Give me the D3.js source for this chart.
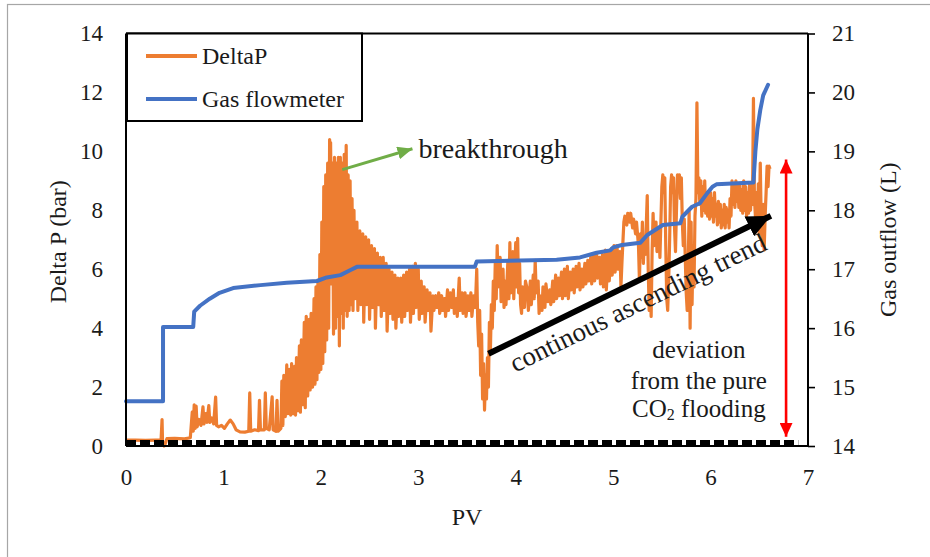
<!DOCTYPE html>
<html>
<head>
<meta charset="utf-8">
<script src="https://cdn.jsdelivr.net/npm/d3@7"></script>
<style>
  html, body { margin: 0; padding: 0; background: #fff; }
  svg { display: block; }
</style>
</head>
<body>
<svg id="chart" width="930" height="557"></svg>
<script>
// ---- data ----
const pvTicks = [0, 1, 2, 3, 4, 5, 6, 7];
const deltaPTicks = [0, 2, 4, 6, 8, 10, 12, 14];
const gasTicks = [14, 15, 16, 17, 18, 19, 20, 21];

const seriesNames = ["DeltaP", "Gas flowmeter"];

// Differential pressure (bar) vs injected pore volumes
const deltaP = [
  [0,0.2],[0.1,0.2],[0.2,0.19],[0.3,0.2],[0.36,0.2],[0.37,0.9],[0.375,0.15],[0.39,0.0],[0.4,0.05],[0.42,0.25],
  [0.5,0.26],[0.6,0.24],[0.66,0.28],
  [0.68,1.15],[0.69,0.5],[0.7,1.4],[0.71,0.6],[0.72,1.35],[0.73,0.65],[0.75,0.9],[0.77,0.7],[0.79,1.33],[0.8,0.75],
  [0.82,1.1],[0.83,0.8],[0.85,1.37],[0.86,0.8],[0.88,0.95],[0.9,0.75],[0.92,1.66],[0.93,0.7],[0.95,0.65],[0.98,0.7],
  [1.01,0.6],[1.04,0.75],[1.07,0.88],[1.1,0.75],[1.13,0.55],[1.17,0.48],[1.22,0.47],[1.26,0.5],[1.27,1.8],[1.28,0.5],
  [1.32,0.55],[1.36,0.52],[1.37,1.55],[1.38,0.55],[1.42,0.55],[1.43,1.8],[1.44,0.6],[1.47,0.55],[1.5,1.67],[1.51,0.55],
  [1.54,0.5],[1.55,1.55],[1.56,0.5],[1.59,0.6],
  [1.60,2.2],[1.61,0.7],[1.62,2.4],[1.635,1.0],[1.65,2.75],[1.66,1.1],[1.675,2.6],[1.69,1.05],[1.70,2.8],[1.715,1.1],
  [1.73,2.7],[1.74,1.05],[1.75,3.0],[1.765,1.2],[1.78,3.4],[1.79,1.15],[1.80,3.6],[1.815,1.4],[1.83,4.2],[1.84,1.3],
  [1.85,4.4],[1.865,1.7],[1.88,4.3],[1.89,1.9],[1.90,4.5],[1.915,2.0],[1.93,5.0],[1.94,2.1],[1.95,5.4],[1.96,2.25],
  [1.97,5.6],[1.98,2.5],[1.99,6.5],[2.0,2.6],
  [2.01,7.6],[2.02,2.8],[2.03,8.8],[2.04,3.2],[2.05,9.2],[2.06,3.6],[2.07,9.6],[2.08,4.0],[2.09,10.4],[2.095,9.9],
  [2.10,10.3],[2.11,5.5],[2.12,9.6],[2.13,3.8],[2.14,9.8],[2.15,4.0],[2.16,9.6],[2.17,4.4],[2.18,9.8],[2.19,3.4],
  [2.20,9.8],[2.21,4.5],[2.22,9.6],[2.23,4.0],[2.24,9.9],[2.25,4.6],[2.26,10.2],[2.27,4.4],[2.28,9.2],[2.29,4.6],
  [2.30,9.0],[2.31,4.8],[2.32,8.4],[2.33,4.6],[2.34,8.0],[2.35,5.0],[2.37,7.6],[2.38,4.6],[2.40,7.3],[2.41,4.8],
  [2.43,7.2],[2.44,4.2],[2.46,7.1],[2.47,4.8],[2.49,7.0],[2.50,4.3],[2.52,6.8],[2.53,4.7],[2.55,6.7],[2.56,4.0],
  [2.58,6.55],[2.59,4.8],[2.61,6.4],[2.62,4.4],[2.64,6.4],[2.65,4.6],[2.67,6.2],[2.68,3.9],[2.70,6.0],[2.71,4.5],
  [2.73,5.9],[2.74,4.3],[2.76,5.8],[2.77,4.0],[2.79,5.7],[2.80,4.4],[2.82,5.7],[2.83,4.2],[2.85,5.8],[2.86,4.4],
  [2.88,5.9],[2.89,4.6],[2.91,6.0],[2.92,4.2],[2.94,6.1],[2.95,4.5],[2.97,6.2],[2.98,4.7],[3.00,6.0],[3.01,4.3],
  [3.03,5.6],[3.04,4.5],[3.06,5.4],[3.07,4.2],[3.09,5.3],[3.10,4.6],[3.12,5.2],[3.13,3.9],[3.15,5.1],[3.16,4.6],
  [3.18,5.1],[3.19,4.7],[3.21,5.2],[3.22,4.5],[3.24,5.1],[3.25,4.6],[3.27,5.0],[3.28,4.4],[3.30,5.3],[3.31,4.6],
  [3.33,5.2],[3.34,4.7],[3.36,5.3],[3.37,4.5],[3.39,5.0],[3.40,4.4],[3.42,5.7],[3.43,4.6],[3.45,5.2],[3.46,4.5],
  [3.48,5.2],[3.49,4.4],[3.51,5.1],[3.52,4.6],[3.54,5.2],[3.55,4.4],[3.57,5.1],[3.58,4.7],
  [3.59,5.1],[3.60,6.0],[3.61,4.2],[3.62,3.4],[3.63,4.6],[3.64,2.4],[3.65,3.8],[3.66,1.6],[3.67,2.8],[3.68,1.22],
  [3.69,2.4],[3.70,1.6],[3.71,3.0],[3.72,2.0],[3.73,4.2],[3.74,3.2],[3.75,4.8],[3.76,4.0],[3.77,5.6],[3.78,4.6],
  [3.79,6.2],[3.80,5.0],[3.81,6.8],[3.82,5.4],[3.84,6.4],[3.85,4.9],[3.87,6.0],[3.88,4.7],[3.89,5.6],[3.90,4.8],
  [3.92,6.3],[3.93,5.0],[3.94,6.9],[3.95,5.2],[3.97,6.6],[3.98,5.0],[4.00,6.9],[4.01,5.4],[4.02,7.05],[4.03,5.2],
  [4.04,6.2],[4.05,4.8],[4.06,4.5],[4.07,5.4],[4.09,4.7],[4.10,5.6],[4.12,5.3],[4.13,4.6],[4.15,5.6],[4.16,4.8],
  [4.18,5.8],[4.19,5.0],[4.20,6.3],[4.21,5.2],[4.23,5.6],[4.24,4.5],[4.25,5.1],[4.27,4.6],[4.28,5.4],[4.30,4.7],
  [4.31,5.5],[4.33,4.9],[4.35,5.3],[4.36,4.8],[4.38,5.6],[4.39,4.9],[4.41,5.8],[4.42,5.0],[4.44,5.7],[4.45,5.1],
  [4.47,5.9],[4.48,5.0],[4.50,6.0],[4.51,5.1],[4.53,6.1],[4.54,5.0],[4.56,5.9],[4.57,5.3],[4.59,6.0],[4.60,5.2],
  [4.62,6.1],[4.63,5.4],[4.65,6.2],[4.66,5.3],[4.68,6.0],[4.69,5.4],[4.71,6.2],[4.72,5.5],[4.74,6.3],[4.75,5.6],
  [4.77,6.4],[4.78,5.5],[4.80,6.5],[4.81,5.6],[4.83,6.55],[4.84,5.7],[4.86,6.4],[4.87,5.5],[4.89,6.5],[4.90,5.4],
  [4.92,6.65],[4.93,5.3],[4.95,6.6],[4.96,5.6],[4.98,6.7],[4.99,5.8],[5.01,6.8],[5.02,5.9],[5.04,6.8],[5.05,6.0],
  [5.07,6.6],[5.08,5.4],[5.09,6.2],[5.10,6.9],[5.11,7.6],[5.12,7.8],[5.14,7.5],[5.15,7.9],[5.17,7.6],[5.18,7.9],
  [5.20,7.4],[5.21,7.7],[5.23,7.2],[5.24,7.6],[5.26,6.8],[5.27,5.6],
  [5.28,7.2],[5.29,6.4],[5.30,7.6],[5.31,6.2],[5.32,7.0],[5.33,6.5],[5.35,8.5],[5.36,6.0],[5.37,4.6],[5.38,5.8],
  [5.39,4.4],[5.40,6.6],[5.41,7.9],[5.42,6.8],[5.44,7.6],[5.45,6.6],[5.47,7.4],[5.48,6.4],[5.50,8.8],[5.51,9.2],
  [5.52,8.6],[5.53,9.1],[5.54,6.8],[5.55,5.0],[5.56,4.6],[5.57,5.6],[5.58,7.0],[5.59,8.8],[5.60,9.2],[5.61,8.6],
  [5.62,9.1],[5.63,7.4],[5.64,6.6],[5.65,8.0],[5.66,9.2],[5.67,8.8],[5.68,9.2],[5.69,8.4],[5.70,9.1],[5.71,7.6],
  [5.72,6.8],[5.73,7.7],[5.74,6.4],[5.75,5.2],[5.76,4.6],[5.77,6.0],[5.78,8.0],[5.79,4.0],[5.80,7.6],[5.81,4.8],
  [5.82,6.8],[5.83,5.4],[5.84,7.8],[5.85,8.4],[5.86,11.65],[5.87,8.6],[5.88,9.1],[5.89,8.2],[5.90,9.0],[5.91,7.8],
  [5.92,8.8],[5.93,8.0],[5.94,9.0],[5.95,7.9],[5.96,8.6],[5.97,7.8],[5.98,8.5],[5.99,7.7],[6.00,8.6],[6.01,7.8],
  [6.02,8.4],[6.03,7.6],[6.04,8.6],[6.05,7.8],[6.06,8.2],[6.07,7.5],[6.08,8.3],[6.09,7.6],[6.10,8.2],[6.11,7.4],
  [6.12,8.0],[6.13,7.5],[6.14,8.2],[6.15,7.4],[6.16,8.1],[6.17,7.6],[6.18,8.0],[6.19,7.4],[6.20,8.4],[6.21,7.8],
  [6.22,9.0],[6.23,8.2],[6.24,8.9],[6.25,8.1],[6.26,9.0],[6.27,8.3],[6.28,8.8],[6.29,8.1],[6.30,8.9],[6.31,8.0],
  [6.32,8.7],[6.33,7.9],[6.34,9.0],[6.35,8.0],[6.36,8.8],[6.37,7.8],[6.38,8.6],[6.39,7.9],[6.40,8.9],[6.41,8.0],
  [6.42,8.6],[6.43,8.2],[6.44,11.8],[6.45,8.4],[6.46,7.8],[6.47,8.6],[6.48,7.4],[6.49,8.9],[6.50,7.2],[6.51,9.6],
  [6.52,7.6],[6.53,6.8],[6.54,8.2],[6.55,6.65],[6.56,7.8],[6.57,8.6],[6.58,9.5],[6.59,8.8],[6.60,9.5],[6.61,9.4]
];

// Cumulative gas outflow (L) from the flowmeter
const gasOutflow = [
  [0,14.76],[0.38,14.76],[0.38,16.02],[0.69,16.02],[0.7,16.28],[0.76,16.38],[0.86,16.5],[0.96,16.6],[1.1,16.68],
  [1.38,16.73],[1.65,16.77],[1.96,16.8],[2.06,16.86],[2.2,16.9],[2.31,16.99],[2.37,17.04],[3.58,17.04],[3.6,17.13],
  [4.42,17.16],[4.66,17.2],[4.83,17.28],[4.97,17.32],[5.0,17.37],[5.09,17.41],[5.28,17.45],[5.35,17.58],[5.51,17.75],
  [5.69,17.78],[5.71,17.89],[5.81,18.06],[5.89,18.12],[5.97,18.3],[6.02,18.4],[6.06,18.44],[6.44,18.47],[6.46,19.0],
  [6.48,19.37],[6.51,19.7],[6.54,19.95],[6.59,20.13]
];

// Reference level of pure CO2 flooding (bar)
const pureCO2 = [[0,0.12],[6.9,0.12]];

// Annotation anchors in data units [PV, DeltaP]
const breakthroughArrow = [[2.22,9.38],[2.94,10.09]];
const trendArrow = [[3.72,3.13],[6.66,7.88]];
const deviationArrow = [[6.775,9.72],[6.775,0.31]];
const deviationLines = ["deviation", "from the pure"];

// ---- layout ----
const FONT = "Liberation Serif";
const INK = "#1a1a1a";
const svg = d3.select("#chart");
const plot = { left: 126, right: 808, top: 33.5, bottom: 446 };
const ORANGE = "#ED7D31", BLUE = "#4472C4", GREEN = "#70AD47";

const x = d3.scaleLinear().domain([0, 7]).range([plot.left, plot.right]);
const yL = d3.scaleLinear().domain([0, 14]).range([plot.bottom, plot.top]);
const yR = d3.scaleLinear().domain([14, 21]).range([plot.bottom, plot.top]);

// outer frame
svg.append("rect").attr("x", 7.5).attr("y", 4.5).attr("width", 1000).attr("height", 1000)
  .attr("fill", "none").attr("stroke", "#a6a6a6").attr("stroke-width", 1.2);

const defs = svg.append("defs");
function marker(id, color, w, h) {
  defs.append("marker").attr("id", id)
    .attr("viewBox", `0 0 ${w} ${h}`).attr("refX", w).attr("refY", h / 2)
    .attr("markerWidth", w).attr("markerHeight", h).attr("markerUnits", "userSpaceOnUse")
    .attr("orient", "auto-start-reverse")
    .append("path").attr("d", `M0,0L${w},${h / 2}L0,${h}Z`).attr("fill", color);
}
marker("headGreen", GREEN, 15, 13);
marker("headBlack", "#000", 24, 22);
marker("headRed", "#FF0000", 14, 13);

// series
const lineL = d3.line().x(d => x(d[0])).y(d => yL(d[1]));
const lineR = d3.line().x(d => x(d[0])).y(d => yR(d[1]));

svg.append("path").datum(deltaP).attr("d", lineL)
  .attr("fill", "none").attr("stroke", ORANGE).attr("stroke-width", 3.2).attr("stroke-linejoin", "round");

svg.append("path").datum(gasOutflow).attr("d", lineR)
  .attr("fill", "none").attr("stroke", BLUE).attr("stroke-width", 4).attr("stroke-linejoin", "round")
  .attr("stroke-linecap", "round");

// axes
const fmt = d3.format("d");
const gL = svg.append("g").attr("transform", `translate(${plot.left},0)`)
  .call(d3.axisLeft(yL).tickValues(deltaPTicks).tickFormat(fmt).tickSize(0).tickPadding(23));
const gB = svg.append("g").attr("transform", `translate(0,${plot.bottom})`)
  .call(d3.axisBottom(x).tickValues(pvTicks).tickFormat(fmt).tickSize(0).tickPadding(23));
const gR = svg.append("g").attr("transform", `translate(${plot.right},0)`)
  .call(d3.axisRight(yR).tickValues(gasTicks).tickFormat(fmt).tickSize(7).tickPadding(17));
[gL, gB, gR].forEach(g => {
  g.attr("font-family", FONT).attr("font-size", 23);
  g.selectAll("path.domain").attr("stroke", "#000").attr("stroke-width", 2);
  g.selectAll(".tick line").attr("stroke", "#000").attr("stroke-width", 1.6);
  g.selectAll(".tick text").attr("fill", INK).attr("font-family", FONT).attr("font-size", 23);
});
gL.select("path.domain").attr("d", `M0,${plot.bottom}V${plot.top}`);
gB.select("path.domain").attr("d", `M${plot.left},0H${plot.right}`);
gR.select("path.domain").attr("d", `M0,${plot.bottom}V${plot.top}`);

// top border of plot area
svg.append("line").attr("x1", plot.left).attr("x2", plot.right).attr("y1", plot.top).attr("y2", plot.top)
  .attr("stroke", "#000").attr("stroke-width", 2);

// pure CO2 reference (dashed)
svg.append("path").datum(pureCO2).attr("d", lineL)
  .attr("fill", "none").attr("stroke", "#000").attr("stroke-width", 5).attr("stroke-dasharray", "10,4");

function label(sel) { return sel.attr("font-family", FONT).attr("fill", INK); }

// axis titles
label(svg.append("text")).attr("transform", `translate(58,${(plot.top + plot.bottom) / 2 + 2}) rotate(-90)`)
  .attr("text-anchor", "middle").attr("dominant-baseline", "central").attr("font-size", 24).text("Delta P (bar)");
label(svg.append("text")).attr("transform", `translate(888,${(plot.top + plot.bottom) / 2}) rotate(-90)`)
  .attr("text-anchor", "middle").attr("dominant-baseline", "central").attr("font-size", 24).text("Gas outflow (L)");
label(svg.append("text")).attr("x", (plot.left + plot.right) / 2).attr("y", 525)
  .attr("text-anchor", "middle").attr("font-size", 24).text("PV");

// breakthrough annotation
svg.append("line")
  .attr("x1", x(breakthroughArrow[0][0])).attr("y1", yL(breakthroughArrow[0][1]))
  .attr("x2", x(breakthroughArrow[1][0])).attr("y2", yL(breakthroughArrow[1][1]))
  .attr("stroke", GREEN).attr("stroke-width", 3).attr("marker-end", "url(#headGreen)");
label(svg.append("text")).attr("x", x(breakthroughArrow[1][0]) + 6).attr("y", yL(breakthroughArrow[1][1]) + 9)
  .attr("font-size", 28).text("breakthrough");

// ascending trend annotation
const t0 = [x(trendArrow[0][0]), yL(trendArrow[0][1])];
const t1 = [x(trendArrow[1][0]), yL(trendArrow[1][1])];
svg.append("line").attr("x1", t0[0]).attr("y1", t0[1]).attr("x2", t1[0] - 4).attr("y2", t1[1] + 2)
  .attr("stroke", "#000").attr("stroke-width", 6).attr("marker-end", "url(#headBlack)");
const ang = Math.atan2(t1[1] - t0[1], t1[0] - t0[0]) * 180 / Math.PI;
label(svg.append("text"))
  .attr("transform", `translate(${x(5.255)},${yL(4.86)}) rotate(${ang})`)
  .attr("text-anchor", "middle").attr("dominant-baseline", "central")
  .attr("font-size", 27).text("continous ascending trend");

// deviation annotation
svg.append("line")
  .attr("x1", x(deviationArrow[0][0])).attr("y1", yL(deviationArrow[0][1]))
  .attr("x2", x(deviationArrow[1][0])).attr("y2", yL(deviationArrow[1][1]))
  .attr("stroke", "#FF0000").attr("stroke-width", 2.6)
  .attr("marker-start", "url(#headRed)").attr("marker-end", "url(#headRed)");
const devX = x(5.88);
[3.26, 2.24].forEach((v, i) => {
  label(svg.append("text")).attr("x", devX).attr("y", yL(v)).attr("text-anchor", "middle")
    .attr("dominant-baseline", "central").attr("font-size", 25).text(deviationLines[i]);
});
const co2 = label(svg.append("text")).attr("x", devX).attr("y", yL(1.29)).attr("text-anchor", "middle")
  .attr("dominant-baseline", "central").attr("font-size", 25);
co2.append("tspan").text("CO");
co2.append("tspan").attr("dy", 6).attr("font-size", 16).text("2");
co2.append("tspan").attr("dy", -6).text(" flooding");

// legend
const lg = svg.append("g");
lg.append("rect").attr("x", 127).attr("y", 33.5).attr("width", 235).attr("height", 87.5)
  .attr("fill", "#fff").attr("stroke", "#000").attr("stroke-width", 2);
[ORANGE, BLUE].forEach((c, i) => {
  const yy = 56 + i * 43;
  lg.append("line").attr("x1", 146).attr("x2", 197).attr("y1", yy).attr("y2", yy)
    .attr("stroke", c).attr("stroke-width", 4);
  label(lg.append("text")).attr("x", 202).attr("y", yy).attr("dominant-baseline", "central")
    .attr("font-size", 24).text(seriesNames[i]);
});
</script>
</body>
</html>
